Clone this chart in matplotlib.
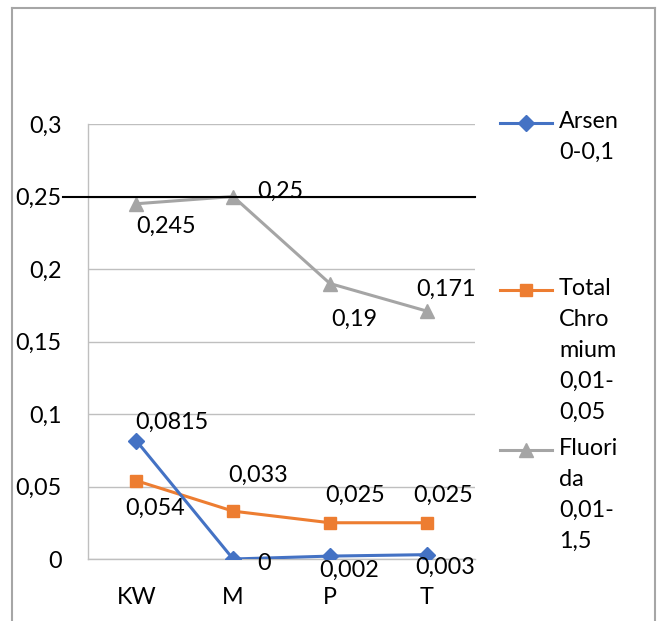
import matplotlib.pyplot as plt
import matplotlib.transforms as mtransforms
from matplotlib.lines import Line2D

plt.rcParams['font.family'] = ['Lato', 'DejaVu Sans']

# data
categories = ['KW', 'M', 'P', 'T']
arsen = [0.0815, 0.0, 0.002, 0.003]
chromium = [0.054, 0.033, 0.025, 0.025]
fluorida = [0.245, 0.25, 0.19, 0.171]
arsen_labels = ['0,0815', '0', '0,002', '0,003']
chromium_labels = ['0,054', '0,033', '0,025', '0,025']
fluorida_labels = ['0,245', '0,25', '0,19', '0,171']
yticks = [0, 0.05, 0.1, 0.15, 0.2, 0.25, 0.3]
ytick_labels = ['0', '0,05', '0,1', '0,15', '0,2', '0,25', '0,3']
limit_line = 0.25

legend_names = ['Arsen\n0-0,1', 'Total\nChro\nmium\n0,01-\n0,05', 'Fluori\nda\n0,01-\n1,5']

# label offsets in pixels (where Excel put the data labels)
arsen_off = [(36, 18), (31, -4), (19, -14), (19, -13)]
chromium_off = [(19, -28), (25, 36), (25, 27), (17, 27)]
fluorida_off = [(30, -23), (47, 5), (24, -36), (19, 22)]

blue, orange, grey = '#4472C4', '#ED7D31', '#A5A5A5'
fs = 16.8

fig = plt.figure(figsize=(6.59, 6.21), dpi=100)
ax = fig.add_axes([88 / 659, 62 / 621, 387 / 659, 435 / 621])

x = list(range(len(categories)))
ax.plot(x, arsen, color=blue, lw=2.2, marker='D', ms=8.5, zorder=4)
ax.plot(x, chromium, color=orange, lw=2.2, marker='s', ms=9, zorder=3)
ax.plot(x, fluorida, color=grey, lw=2.2, marker='^', ms=10, zorder=3)

for vals, labs, offs in [(arsen, arsen_labels, arsen_off),
                         (chromium, chromium_labels, chromium_off),
                         (fluorida, fluorida_labels, fluorida_off)]:
    for i, (v, t, o) in enumerate(zip(vals, labs, offs)):
        ax.annotate(t, (i, v), xytext=o, textcoords='offset pixels',
                    ha='center', va='center', fontsize=fs, color='black', zorder=6)

# black limit line at 0,25 (extends a bit left of the axis)
trans = mtransforms.blended_transform_factory(ax.transAxes, ax.transData)
ax.plot([-25 / 387, 1], [limit_line, limit_line], color='black', lw=1.5,
        transform=trans, clip_on=False, zorder=5)

ax.set_xlim(-0.5, 3.5)
ax.set_ylim(0, 0.3)
ax.set_yticks(yticks)
ax.set_yticklabels(ytick_labels)
ax.set_xticks(x)
ax.set_xticklabels(categories)
ax.tick_params(axis='y', length=0, pad=19, labelsize=fs)
ax.tick_params(axis='x', length=0, pad=20, labelsize=fs)
ax.grid(axis='y', color='#bfbfbf', lw=1)
ax.set_axisbelow(True)
for s in ['top', 'right']:
    ax.spines[s].set_visible(False)
for s in ['left', 'bottom']:
    ax.spines[s].set_color('#bfbfbf')
    ax.spines[s].set_linewidth(1)

# legend drawn by hand to get Excel's spacing
W, H = 659, 621
leg_y = [123, 290, 450]
handles = [(blue, 'D', 8.5), (orange, 's', 9), (grey, '^', 10)]
for yy, name, (c, m, s) in zip(leg_y, legend_names, handles):
    fy = 1 - yy / H
    fig.add_artist(Line2D([500 / W, 552 / W], [fy, fy], color=c, lw=2.2))
    fig.add_artist(Line2D([526 / W], [fy], color=c, marker=m, ms=s))
    fig.text(559 / W, 1 - (yy - 12) / H, name, fontsize=fs, va='top', ha='left',
             linespacing=1.58)

# outer frame
fc = '#a6a6a6'
fig.add_artist(Line2D([12 / W, 12 / W], [0, 1 - 8 / H], color=fc, lw=1.5))
fig.add_artist(Line2D([655 / W, 655 / W], [0, 1 - 8 / H], color=fc, lw=1.5))
fig.add_artist(Line2D([12 / W, 655 / W], [1 - 8 / H, 1 - 8 / H], color=fc, lw=1.5))

fig.savefig('out.png', dpi=100)
